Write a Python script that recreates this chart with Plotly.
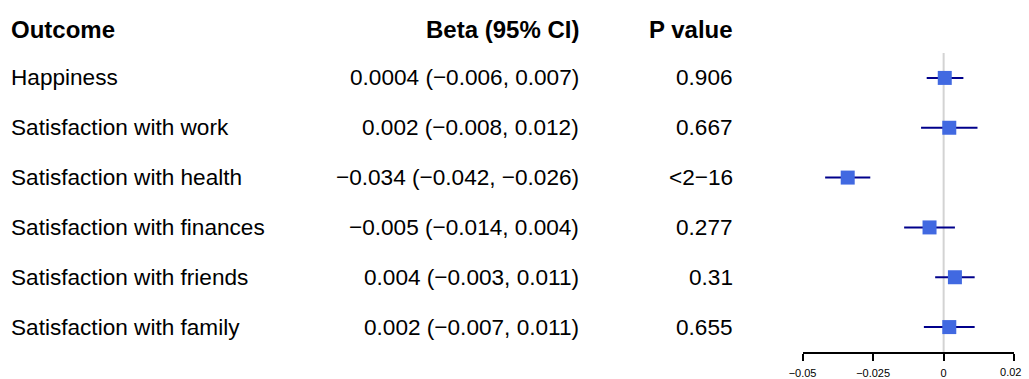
import plotly.graph_objects as go

outcomes = ["Happiness", "Satisfaction with work", "Satisfaction with health",
            "Satisfaction with finances", "Satisfaction with friends", "Satisfaction with family"]
beta = [0.0004, 0.002, -0.034, -0.005, 0.004, 0.002]
ci_low = [-0.006, -0.008, -0.042, -0.014, -0.003, -0.007]
ci_high = [0.007, 0.012, -0.026, 0.004, 0.011, 0.011]
beta_text = ["0.0004 (\u22120.006, 0.007)", "0.002 (\u22120.008, 0.012)",
             "\u22120.034 (\u22120.042, \u22120.026)", "\u22120.005 (\u22120.014, 0.004)",
             "0.004 (\u22120.003, 0.011)", "0.002 (\u22120.007, 0.011)"]
p_text = ["0.906", "0.667", "<2\u221216", "0.277", "0.31", "0.655"]
headers = ["Outcome", "Beta (95% CI)", "P value"]
tick_vals = [-0.05, -0.025, 0, 0.025]
tick_text = ["\u22120.05", "\u22120.025", "0", ""]
# last label is drawn by an overlaid axis, nudged inward so it stays inside the page
edge_tick_val = [0.0238]
edge_tick_text = ["0.02"]

W, H = 1029, 379
T, B = 53, 26
PH = H - T - B
rows = list(range(len(outcomes)))

fig = go.Figure()
fig.add_trace(go.Scatter(
    x=beta, y=rows, mode="markers",
    marker=dict(symbol="square", size=14, color="#4169E1", line=dict(width=0)),
    error_x=dict(type="data", symmetric=False,
                 array=[h - b for h, b in zip(ci_high, beta)],
                 arrayminus=[b - l for b, l in zip(beta, ci_low)],
                 color="#00008B", thickness=2, width=0),
    showlegend=False, hoverinfo="skip", cliponaxis=False,
))
fig.add_trace(go.Scatter(x=beta, y=rows, xaxis="x2", mode="markers",
                         marker=dict(opacity=0), showlegend=False, hoverinfo="skip"))

fig.add_shape(type="line", x0=0, x1=0, xref="x", y0=0, y1=1, yref="y domain",
              line=dict(color="#d3d3d3", width=2), layer="below")

fam = "Liberation Sans, Arial, Helvetica, sans-serif"
font_reg = dict(family=fam, size=22.6, color="black")
font_bold = dict(family=fam, size=24, color="black")

col_x = [-4 / W, 578 / W, 735 / W]
col_anchor = ["left", "right", "right"]
head_y = (H - B - 29) / PH
for h, x, a in zip(headers, col_x, col_anchor):
    fig.add_annotation(x=x, xref="paper", y=head_y, yref="paper", text="<b>%s</b>" % h,
                       showarrow=False, xanchor=a, align=a, yanchor="middle",
                       font=font_bold, borderpad=0)
for i in rows:
    for txt, x, a in zip([outcomes[i], beta_text[i], p_text[i]], col_x, col_anchor):
        fig.add_annotation(x=x, xref="paper", y=i, yref="y", text=txt,
                           showarrow=False, xanchor=a, align=a, yanchor="middle",
                           font=font_reg, borderpad=0)

tickfont = dict(family=fam, size=11, color="black")
dom = [805 / W, 1021 / W]
fig.update_layout(
    width=W, height=H,
    margin=dict(l=0, r=0, t=T, b=B),
    paper_bgcolor="white", plot_bgcolor="white",
    xaxis=dict(domain=dom, range=[-0.05, 0.025],
               tickvals=tick_vals, ticktext=tick_text,
               showgrid=False, zeroline=False,
               showline=True, linecolor="black", linewidth=1.5,
               ticks="outside", ticklen=7, tickwidth=1.5, tickcolor="black",
               ticklabelstandoff=3, tickfont=tickfont),
    xaxis2=dict(domain=dom, range=[-0.05, 0.025], overlaying="x", anchor="y", side="bottom",
                tickvals=edge_tick_val, ticktext=edge_tick_text,
                showgrid=False, zeroline=False, showline=False,
                ticks="outside", ticklen=7, tickwidth=1, tickcolor="rgba(0,0,0,0)",
                ticklabelstandoff=3, tickfont=tickfont),
    yaxis=dict(range=[5.5, -0.5], showgrid=False, zeroline=False, showline=False,
               showticklabels=False, ticks=""),
)

post = ("document.body.style.margin='0';document.body.style.overflow='hidden';")
fig.write_html("out.html", config={"displayModeBar": False}, post_script=post)
